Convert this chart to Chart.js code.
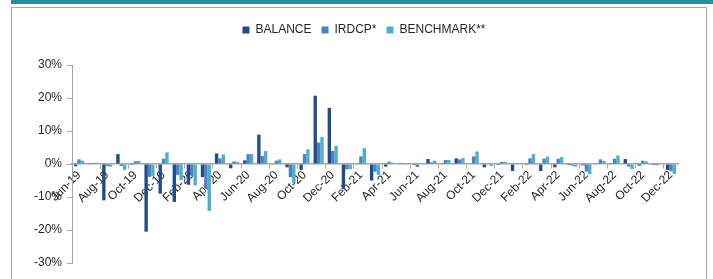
<!DOCTYPE html>
<html lang="en">
<head>
<meta charset="UTF-8">
<title>Balance vs IRDCP vs Benchmark</title>
<script src="https://cdn.jsdelivr.net/npm/chart.js"></script>
<style>
body {
    margin: 0;
    background: #fff;
    width: 713px;
    height: 279px;
    overflow: hidden;
    position: relative;
}
.topbar {
    position: absolute;
    left: 11px; top: 0;
    width: 702px; height: 4px;
    background: #2f8a9d;
}
.frame {
    position: absolute;
    left: 11px; top: 7px;
    width: 694px; height: 300px;
    border: 1px solid #a6a6a6;
}
#chart { position: absolute; left: 0; top: 0; }
</style>
</head>
<body>
<div class="topbar"></div>
<div class="frame"></div>
<canvas id="chart" width="713" height="279"></canvas>

<script>
// monthly returns, Jun-19 .. Dec-22 (in %)
const months = [
    "Jun-19","Jul-19","Aug-19","Sep-19","Oct-19","Nov-19","Dec-19",
    "Jan-20","Feb-20","Mar-20","Apr-20","May-20","Jun-20","Jul-20","Aug-20","Sep-20","Oct-20","Nov-20","Dec-20",
    "Jan-21","Feb-21","Mar-21","Apr-21","May-21","Jun-21","Jul-21","Aug-21","Sep-21","Oct-21","Nov-21","Dec-21",
    "Jan-22","Feb-22","Mar-22","Apr-22","May-22","Jun-22","Jul-22","Aug-22","Sep-22","Oct-22","Nov-22","Dec-22"
];

const balance = [
    -0.7, 0.1, -11.0, 3.0, -0.3, -20.5, -9.0,
    -11.5, -6.3, -4.0, 3.2, -1.3, 1.1, 8.9, -0.2, -1.0, -1.8, 20.7, 17.0,
    -7.6, -0.2, -5.0, -0.8, 0.2, -0.3, 1.5, 0.1, 1.7, 0.1, -1.0, -0.3,
    -2.1, -0.3, -2.1, -1.0, -0.3, -0.4, 0.1, 0.1, 1.5, -0.5, -0.3, -1.8
];

const irdcp = [
    1.4, 0.3, -0.6, -0.6, 0.8, -3.9, 1.6,
    -3.3, -3.5, -7.5, 1.7, 0.8, 3.0, 2.4, 1.0, -4.0, 3.0, 6.5, 4.0,
    -1.6, 2.3, -2.3, 0.7, 0.3, -0.9, 0.5, 1.2, 1.4, 2.3, 0.1, 0.6,
    0.2, 1.7, 1.6, 1.6, -0.5, -2.3, 1.4, 1.6, -0.8, 1.0, -0.4, -2.2
];

const benchmark = [
    1.0, 0.4, -0.8, -1.8, 0.9, -3.6, 3.5,
    -4.8, -6.5, -14.2, 2.9, 0.6, 3.0, 3.9, 1.4, -5.8, 4.4, 8.2, 5.5,
    -1.6, 4.8, -3.3, 0.4, -0.2, 0.0, 1.0, 1.2, 1.8, 3.8, -0.6, 0.6,
    0.1, 3.0, 2.2, 2.1, -0.8, -3.1, 0.9, 2.6, -1.5, 0.8, -0.2, -3.0
];

const yTicks = [-30, -20, -10, 0, 10, 20, 30];

const axisGray = '#a6a6a6';
const textColor = '#262626';

// make the legend take more vertical room so the plot starts lower,
// and nudge it right so it sits over the plot area
const legendSpace = {
    id: 'legendSpace',
    beforeInit(chart){
        const fit = chart.legend.fit;
        chart.legend.fit = function(){
            fit.bind(chart.legend)();
            this.height += 19;
        };
    },
    afterLayout(chart){
        chart.legend.left += 25;
        chart.legend.right += 25;
    }
};

new Chart(document.getElementById('chart'), {
    type: 'bar',
    data: {
        labels: months,
        datasets: [
            {label: 'BALANCE', data: balance, backgroundColor: '#244c86'},
            {label: 'IRDCP*', data: irdcp, backgroundColor: '#4f81c2'},
            {label: 'BENCHMARK**', data: benchmark, backgroundColor: '#4cb0cb'}
        ]
    },
    options: {
        responsive: false,
        animation: false,
        devicePixelRatio: 1,
        layout: {padding: {left: 0, right: 35, top: 14, bottom: 16}},
        datasets: {bar: {categoryPercentage: 0.72, barPercentage: 1.0}},
        plugins: {
            legend: {
                position: 'top',
                labels: {
                    boxWidth: 7, boxHeight: 7, padding: 10,
                    color: textColor,
                    font: {family: 'Liberation Sans', size: 12}
                }
            },
            tooltip: {enabled: false}
        },
        scales: {
            x: {
                position: {y: 0},
                grid: {
                    drawOnChartArea: false,
                    offset: true,
                    tickLength: 4,
                    color: ctx => ctx.index % 2 === 0 ? axisGray : 'rgba(0,0,0,0)'
                },
                border: {color: axisGray, width: 1.5},
                ticks: {
                    autoSkip: false,
                    minRotation: 45, maxRotation: 45,
                    padding: 0,
                    color: textColor,
                    font: {family: 'Liberation Sans', size: 12},
                    callback: function(v, i){ return i % 2 === 0 ? months[i] : ''; }
                }
            },
            y: {
                min: yTicks[0], max: yTicks[yTicks.length - 1],
                afterFit: s => { s.width = 72; },
                afterBuildTicks: s => { s.ticks = yTicks.map(v => ({value: v})); },
                grid: {drawOnChartArea: false, tickLength: 5, color: axisGray},
                border: {color: axisGray, width: 1},
                ticks: {
                    padding: 5,
                    color: textColor,
                    font: {family: 'Liberation Sans', size: 12},
                    callback: v => v + '%'
                }
            }
        }
    },
    plugins: [legendSpace]
});
</script>
</body>
</html>
